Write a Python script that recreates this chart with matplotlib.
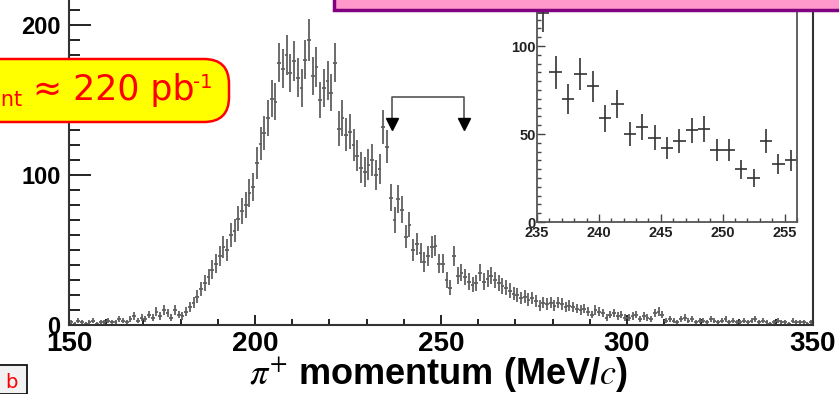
import numpy as np
import matplotlib
matplotlib.use("Agg")
import matplotlib.pyplot as plt
from matplotlib.patches import FancyBboxPatch, Rectangle

plt.rcParams['font.family'] = ['Liberation Sans', 'DejaVu Sans']
plt.rcParams['mathtext.fontset'] = 'stix'

# pi+ momentum histogram, 1 MeV/c bins from 150 to 350
bin_lo = 150
counts = [
    2, 1, 3, 2, 1, 2, 3, 1, 2, 2,
    3, 2, 2, 4, 3, 2, 4, 6, 3, 5,
    4, 7, 5, 9, 6, 10, 8, 5, 10, 7,
    6, 9, 12, 15, 19, 24, 28, 32, 37, 41,
    46, 52, 50, 60, 63, 71, 76, 80, 88, 92,
    108, 121, 128, 138, 151, 149, 175, 171, 180, 168,
    176, 165, 158, 177, 190, 166, 172, 150, 158, 163,
    155, 175, 131, 138, 127, 129, 120, 113, 105, 102,
    107, 110, 100, 104, 132, 119, 85, 70, 84, 77,
    59, 67, 50, 54, 48, 42, 46, 52, 53, 41,
    41, 30, 25, 46, 33, 35, 32, 29, 27, 28,
    35, 29, 31, 33, 30, 28, 26, 25, 23, 21,
    20, 18, 19, 17, 18, 16, 13, 15, 14, 15,
    13, 15, 14, 12, 13, 12, 11, 10, 11, 9,
    7, 10, 9, 8, 5, 7, 8, 6, 7, 5,
    5, 6, 7, 4, 6, 5, 4, 8, 9, 7,
    3, 4, 3, 2, 4, 5, 3, 4, 2, 3,
    3, 2, 4, 3, 2, 3, 4, 2, 3, 2,
    2, 3, 2, 3, 4, 2, 3, 2, 1, 2,
    3, 2, 2, 1, 3, 2, 2, 2, 1, 2,
]

# zoomed region shown in the inset
inset_lo = 235
inset_counts = [119, 85, 70, 84, 77, 59, 67, 50, 54, 48, 42,
                46, 52, 53, 41, 41, 30, 25, 46, 33, 35]

main_xticks = [150, 200, 250, 300, 350]
main_yticks = [0, 100, 200]
inset_xticks = [235, 240, 245, 250, 255]
inset_yticks = [0, 50, 100]

W, H = 839, 394


def fx(px):
    return px / W


def fy(py):
    return 1 - py / H


fig = plt.figure(figsize=(W / 100, H / 100), dpi=100)

# main histogram
x0, x1, y0 = 69, 813, 325
ytop = 230
ax = fig.add_axes([fx(x0), fy(y0), fx(x1) - fx(x0), (ytop * 1.5) / H])
centers = bin_lo + 0.5 + np.arange(len(counts))
vals = np.array(counts, dtype=float)
ax.errorbar(centers, vals, xerr=0.5, yerr=np.sqrt(vals), fmt='none',
            ecolor='#606060', elinewidth=1.3)
ax.set_xlim(150, 350)
ax.set_ylim(0, ytop)
ax.set_xticks(main_xticks)
ax.set_xticks(np.arange(150, 351, 10), minor=True)
ax.set_yticks(main_yticks)
ax.set_yticks(np.arange(0, 231, 10), minor=True)
ax.tick_params(axis='x', which='major', direction='in', length=7, width=1.4,
               labelsize=20, pad=4, colors='#222222')
ax.tick_params(axis='x', which='minor', direction='in', length=4, width=1.4,
               colors='#222222')
ax.tick_params(axis='y', which='major', direction='in', length=16, width=1.4,
               labelsize=17, pad=6, colors='#222222')
ax.tick_params(axis='y', which='minor', direction='in', length=8, width=1.4,
               colors='#222222')
for lab in ax.get_xticklabels() + ax.get_yticklabels():
    lab.set_fontweight('bold')
    lab.set_color('black')
for sp in ax.spines.values():
    sp.set_linewidth(1.5)
    sp.set_color('#333333')
ax.set_xlabel(r"$\pi^{+}$ momentum (MeV/$c$)", fontsize=26, fontweight='bold')
ax.xaxis.set_label_coords(0.497, -0.088)

# bracket with arrows marking the inset range
bx0, bx1, by, btip = 236.7, 256.1, 152, 134
ax.plot([bx0, bx0, bx1, bx1], [btip + 4, by, by, btip + 4], color='#555555', lw=1.2)
ax.plot([bx0, bx1], [btip, btip], ls='none', marker='v', ms=8, color='black')

# inset
ix0, ix1, iy0 = 537, 797, 222
itop = 130
ins = fig.add_axes([fx(ix0), fy(iy0), fx(ix1) - fx(ix0), (itop * 1.76) / H])
ic = inset_lo + 0.5 + np.arange(len(inset_counts))
iv = np.array(inset_counts, dtype=float)
ins.errorbar(ic, iv, xerr=0.5, yerr=np.sqrt(iv), fmt='none',
             ecolor='#333333', elinewidth=1.2)
ins.set_xlim(235, 256)
ins.set_ylim(0, itop)
ins.set_xticks(inset_xticks)
ins.set_xticks(np.arange(235, 257, 1), minor=True)
ins.set_yticks(inset_yticks)
ins.set_yticks(np.arange(0, 131, 5), minor=True)
ins.tick_params(which='major', direction='in', length=6, width=1.0,
                labelsize=10.5, pad=1, colors='#444444')
ins.tick_params(axis='x', which='major', pad=3)
ins.tick_params(which='minor', direction='in', length=3, width=1.0,
                colors='#444444')
for lab in ins.get_xticklabels() + ins.get_yticklabels():
    lab.set_fontweight('bold')
    lab.set_color('#222222')
for sp in ins.spines.values():
    sp.set_linewidth(1.3)
    sp.set_color('#555555')

# pink title box at top (mostly cut off)
fig.patches.append(Rectangle((fx(334), fy(10)), fx(520), fy(-20) - fy(10),
                             transform=fig.transFigure, facecolor='#ff99cc',
                             edgecolor='#800080', lw=2.5, zorder=5))

# yellow luminosity box
fig.patches.append(FancyBboxPatch((fx(-30), fy(122)), fx(259), fy(59) - fy(122),
                                  boxstyle="round,pad=0,rounding_size=0.03",
                                  transform=fig.transFigure, facecolor='#ffff00',
                                  edgecolor='#ff0000', lw=1.8, zorder=5,
                                  mutation_aspect=2.1))
fig.text(fx(22), fy(100), "int", color='red', fontsize=15, ha='right',
         va='center', family='DejaVu Sans', zorder=6)
fig.text(fx(-2), fy(90), "L", color='red', fontsize=25, ha='right',
         va='center', family='DejaVu Sans', zorder=6)
fig.text(fx(33), fy(90), "\u2248 220 pb", color='red', fontsize=25, ha='left',
         va='center', family='DejaVu Sans', zorder=6)
fig.text(fx(193), fy(83), "-1", color='red', fontsize=14, ha='left',
         va='center', family='DejaVu Sans', zorder=6)

# small box at bottom left
fig.patches.append(Rectangle((fx(-2), fy(394)), fx(29), fy(365) - fy(394),
                             transform=fig.transFigure, facecolor='#f2f2f2',
                             edgecolor='black', lw=1.2, zorder=5))
fig.text(fx(11), fy(383), "b", color='red', fontsize=14, ha='center',
         va='center', family='DejaVu Sans', zorder=6)

fig.savefig("out.png", dpi=100)
